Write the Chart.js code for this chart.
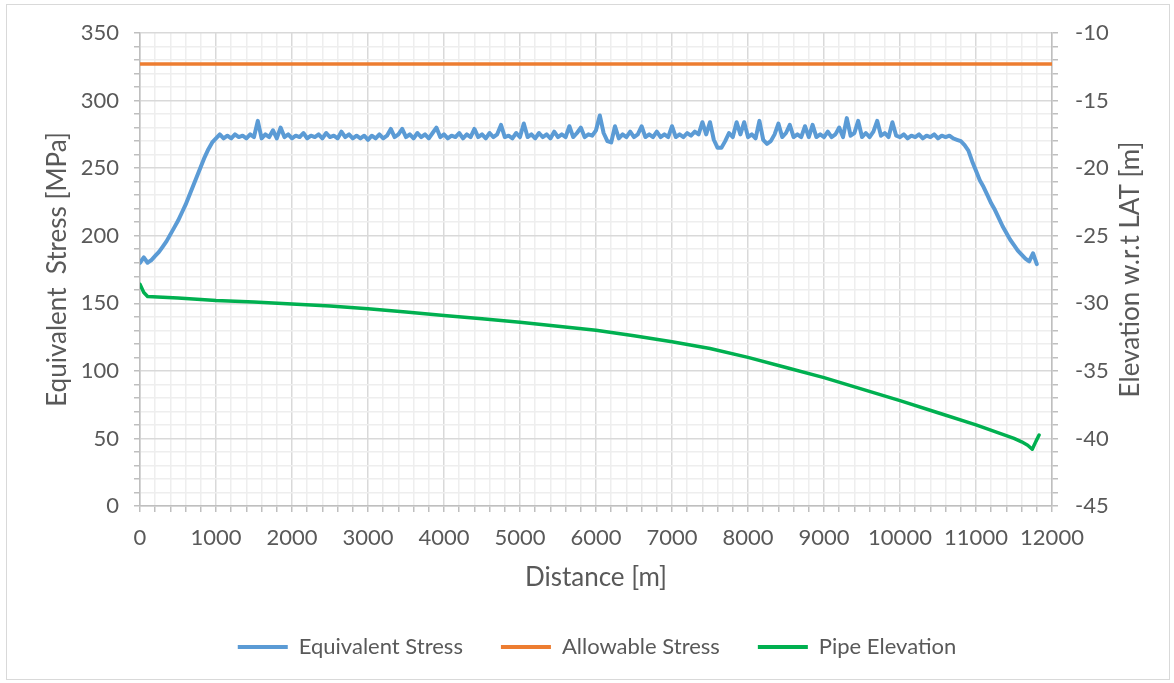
<!DOCTYPE html>
<html>
<head>
<meta charset="utf-8">
<title>Pipeline Stress and Elevation</title>
<script src="https://cdn.jsdelivr.net/npm/chart.js@4.4.1/dist/chart.umd.min.js"></script>
<style>
  html, body { margin: 0; padding: 0; background: #ffffff; }
  #wrap { position: relative; width: 1174px; height: 683px; }
</style>
</head>
<body>
<div id="wrap"><canvas id="chart" width="1174" height="683"></canvas></div>
<script>
// Equivalent stress [MPa], sampled every 50 m along the route (0 .. 11800 m)
const stressStep = 50;
const equivalentStress = [
  180, 184, 180, 182, 185, 188, 192, 196, 201, 206, 211, 217, 223, 230, 237, 244, 251, 258, 264, 269,
  272, 275, 272, 274, 272, 275, 273, 274, 272, 275, 273, 285, 272, 275, 273, 278, 272, 280, 273, 275,
  272, 274, 273, 276, 272, 274, 273, 275, 272, 276, 273, 274, 272, 277, 273, 275, 272, 274, 272, 274,
  271, 274, 272, 275, 272, 274, 279, 273, 275, 279, 273, 275, 272, 276, 273, 275, 272, 276, 280, 273,
  275, 272, 274, 273, 276, 272, 275, 273, 279, 273, 275, 272, 276, 273, 275, 282, 273, 274, 272, 276,
  273, 283, 273, 275, 272, 276, 273, 275, 272, 277, 273, 275, 273, 281, 273, 276, 280, 273, 275, 274,
  278, 289, 276, 270, 269, 281, 272, 275, 273, 277, 273, 275, 281, 273, 275, 273, 277, 273, 275, 273,
  281, 273, 275, 273, 276, 274, 277, 275, 284, 275, 284, 271, 265, 265, 270, 276, 273, 284, 275, 284,
  273, 275, 272, 285, 271, 268, 270, 275, 283, 273, 276, 282, 273, 275, 273, 281, 273, 282, 273, 275,
  273, 277, 273, 275, 280, 273, 287, 274, 276, 285, 273, 276, 273, 277, 285, 274, 276, 273, 284, 274,
  273, 275, 272, 274, 273, 275, 272, 274, 273, 275, 272, 274, 273, 274, 272, 271, 270, 267, 263, 255,
  248, 241, 236, 230, 224, 219, 213, 207, 202, 197, 193, 189, 186, 183, 181, 187, 179
];

// Allowable stress limit [MPa]
const allowableDistance = [0, 12000];
const allowableStress = [327, 327];

// Pipe elevation w.r.t. LAT [m]
const elevationDistance = [0, 50, 100, 500, 1000, 1500, 2000, 2500, 3000, 3500, 4000, 4500, 5000, 5500,
  6000, 6500, 7000, 7500, 8000, 8500, 9000, 9500, 10000, 10500, 11000, 11500, 11600, 11680, 11740, 11790, 11830];
const pipeElevation = [-28.6, -29.2, -29.5, -29.6, -29.8, -29.9, -30.05, -30.2, -30.4, -30.65, -30.9, -31.15,
  -31.4, -31.7, -32.0, -32.4, -32.85, -33.35, -34.0, -34.75, -35.5, -36.35, -37.2, -38.1, -39.0, -40.0,
  -40.25, -40.5, -40.8, -40.2, -39.75];

// Axis ranges and labelled tick steps
const distanceRange = [0, 12000];
const stressRange = [0, 350];
const elevationRange = [-45, -10];
const distanceLabelStep = 1000;
const stressLabelStep = 50;
const elevationLabelStep = 5;

const FONT = 'Lato, "Open Sans", "DejaVu Sans", sans-serif';
const TEXT = '#595959';
const MAJOR = '#d9d9d9';
const MINOR = '#eeeeee';
const AXIS = '#bfbfbf';

const toPoints = (xs, ys) => ys.map((y, i) => ({ x: xs[i], y }));

const stressPoints = equivalentStress.map((y, i) => ({ x: i * stressStep, y }));

// Outer frame and the right-hand axis title (reads bottom-to-top like the left one)
const framePlugin = {
  id: 'frame',
  beforeDraw(chart) {
    const ctx = chart.ctx;
    ctx.save();
    ctx.strokeStyle = '#d9d9d9';
    ctx.lineWidth = 1;
    ctx.strokeRect(6.5, 4.5, 1163, 675);
    ctx.restore();
  },
  afterDraw(chart) {
    const ctx = chart.ctx;
    const area = chart.chartArea;
    ctx.save();
    ctx.translate(1131, (area.top + area.bottom) / 2);
    ctx.rotate(-Math.PI / 2);
    ctx.fillStyle = TEXT;
    ctx.font = '26px ' + FONT;
    ctx.textAlign = 'center';
    ctx.textBaseline = 'middle';
    ctx.fillText('Elevation w.r.t LAT [m]', 0, 0);
    ctx.restore();
  }
};

const gridColor = (step) => (c) => (c.tick && Math.round(c.tick.value) % step === 0 ? MAJOR : MINOR);

new Chart(document.getElementById('chart'), {
  type: 'line',
  data: {
    datasets: [
      {
        label: 'Equivalent Stress',
        data: stressPoints,
        borderColor: '#5b9bd5',
        backgroundColor: '#5b9bd5',
        borderWidth: 4,
        borderJoinStyle: 'round',
        borderCapStyle: 'round',
        pointRadius: 0,
        tension: 0,
        yAxisID: 'y',
        order: 2
      },
      {
        label: 'Allowable Stress',
        data: toPoints(allowableDistance, allowableStress),
        borderColor: '#ed7d31',
        backgroundColor: '#ed7d31',
        borderWidth: 3.5,
        pointRadius: 0,
        yAxisID: 'y',
        order: 1
      },
      {
        label: 'Pipe Elevation',
        data: toPoints(elevationDistance, pipeElevation),
        borderColor: '#00b050',
        backgroundColor: '#00b050',
        borderWidth: 3.5,
        borderJoinStyle: 'round',
        borderCapStyle: 'round',
        pointRadius: 0,
        tension: 0,
        yAxisID: 'y1',
        order: 0
      }
    ]
  },
  options: {
    responsive: false,
    animation: false,
    devicePixelRatio: 1,
    layout: { padding: { top: 33, left: 20, right: 0, bottom: 15 } },
    plugins: {
      tooltip: { enabled: false },
      legend: {
        position: 'bottom',
        labels: {
          color: TEXT,
          font: { family: FONT, size: 22 },
          boxWidth: 50,
          boxHeight: 4,
          padding: 38,
          useBorderRadius: true,
          borderRadius: 2,
          generateLabels(chart) {
            return chart.data.datasets.map((ds, i) => ({
              text: ds.label,
              fillStyle: ds.borderColor,
              strokeStyle: ds.borderColor,
              lineWidth: 0,
              fontColor: TEXT,
              hidden: false,
              datasetIndex: i
            }));
          }
        }
      }
    },
    scales: {
      x: {
        type: 'linear',
        min: distanceRange[0],
        max: distanceRange[1],
        afterFit(scale) { scale.height = 92; },
        ticks: {
          stepSize: 200,
          autoSkip: false,
          maxRotation: 0,
          padding: 13,
          color: TEXT,
          font: { family: FONT, size: 22 },
          callback: (v) => (Math.round(v) % distanceLabelStep === 0 ? String(Math.round(v)) : '')
        },
        grid: { color: gridColor(distanceLabelStep), tickColor: AXIS, tickLength: 6, lineWidth: 1.5 },
        border: { color: AXIS, width: 1.5 },
        title: {
          display: true,
          text: 'Distance [m]',
          color: TEXT,
          font: { family: FONT, size: 26 },
          padding: { top: 0, bottom: 5 }
        }
      },
      y: {
        type: 'linear',
        position: 'left',
        min: stressRange[0],
        max: stressRange[1],
        afterFit(scale) { scale.width = 120; },
        ticks: {
          stepSize: 10,
          autoSkip: false,
          padding: 15,
          color: TEXT,
          font: { family: FONT, size: 22 },
          callback: (v) => (Math.round(v) % stressLabelStep === 0 ? String(Math.round(v)) : '')
        },
        grid: { color: gridColor(stressLabelStep), tickColor: AXIS, tickLength: 6, lineWidth: 1.5 },
        border: { color: AXIS, width: 1.5 },
        title: {
          display: true,
          text: 'Equivalent  Stress [MPa]',
          color: TEXT,
          font: { family: FONT, size: 26 },
          padding: { top: 22, bottom: 0 }
        }
      },
      y1: {
        type: 'linear',
        position: 'right',
        min: elevationRange[0],
        max: elevationRange[1],
        afterFit(scale) { scale.width = 122; },
        ticks: {
          stepSize: 1,
          autoSkip: false,
          padding: 17,
          color: TEXT,
          font: { family: FONT, size: 22 },
          callback: (v) => (Math.round(v) % elevationLabelStep === 0 ? String(Math.round(v)) : '')
        },
        grid: { drawOnChartArea: false, tickColor: AXIS, tickLength: 6, lineWidth: 1.5 },
        border: { color: AXIS, width: 1.5 }
      }
    }
  },
  plugins: [framePlugin]
});
</script>
</body>
</html>
